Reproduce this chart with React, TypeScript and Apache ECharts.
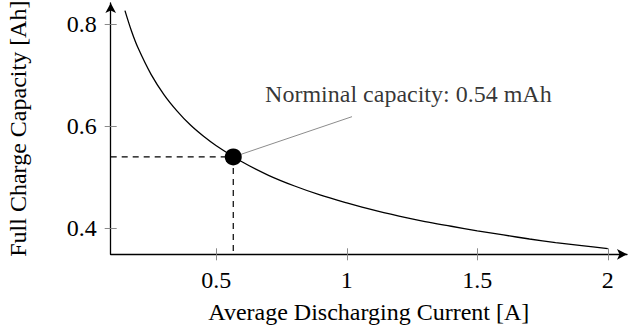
import React, { useEffect, useRef } from "react";
import * as echarts from "echarts";

// Data
const currentA = [0.15, 0.175, 0.2, 0.25, 0.3, 0.35, 0.4, 0.45, 0.5, 0.6, 0.7, 0.8, 0.9, 1.0, 1.1, 1.2, 1.3, 1.4, 1.5, 1.6, 1.7, 1.8, 1.9, 2.0];
const capacityAh = [0.827, 0.787, 0.754, 0.702, 0.662, 0.63, 0.603, 0.581, 0.562, 0.53, 0.504, 0.483, 0.465, 0.45, 0.436, 0.424, 0.413, 0.404, 0.395, 0.387, 0.379, 0.372, 0.366, 0.36];
const nominalPoint = [0.565, 0.54];
const calloutEnd = [1.02, 0.619];
const calloutTextAnchor = [0.687, 0.664];
const calloutText = "Norminal capacity: 0.54 mAh";
const xTicks = [0.5, 1, 1.5, 2];
const yTicks = [0.4, 0.6, 0.8];
const xRange = [0.0954, 2.0736];
const yRange = [0.349, 0.842];
const xTitle = "Average Discharging Current [A]";
const yTitle = "Full Charge Capacity [Ah]";

const FONT = "Liberation Serif";
const FS = 24;

export default function App() {
  const ref = useRef<HTMLDivElement>(null);
  useEffect(() => {
    if (!ref.current) return;
    const chart = echarts.init(ref.current, null, { renderer: "svg" });
    const curve = currentA.map((x, i) => [x, capacityAh[i]]);
    const tickStyle = { show: true, length: 6, lineStyle: { color: "#8a8a8a", width: 1 } };
    const textBase = { fontFamily: FONT, fontSize: FS, color: "#000" };
    chart.setOption({
      animation: false,
      backgroundColor: "#ffffff",
      textStyle: { fontFamily: FONT },
      grid: {
        left: 110.7,
        right: 4,
        top: 3,
        bottom: 77.7,
        containLabel: false,
        outerBoundsMode: "none",
      },
      xAxis: [
        {
          type: "value",
          position: "bottom",
          min: xRange[0],
          max: xRange[1],
          splitLine: { show: false },
          axisLine: {
            show: true,
            onZero: false,
            symbol: ["none", "arrow"],
            symbolSize: [8, 10],
            lineStyle: { color: "#000", width: 1.3 },
          },
          axisTick: { ...tickStyle, inside: false, customValues: xTicks },
          axisLabel: {
            ...textBase,
            customValues: xTicks,
            formatter: (v: number) => String(v),
            margin: 14,
          },
          name: xTitle,
          nameLocation: "middle",
          nameGap: 46,
          nameTextStyle: textBase,
        },
        {
          type: "value",
          position: "bottom",
          min: xRange[0],
          max: xRange[1],
          splitLine: { show: false },
          axisLine: { show: false, onZero: false },
          axisTick: { ...tickStyle, inside: true, customValues: xTicks },
          axisLabel: { show: false },
        },
      ],
      yAxis: [
        {
          type: "value",
          position: "left",
          min: yRange[0],
          max: yRange[1],
          splitLine: { show: false },
          axisLine: {
            show: true,
            onZero: false,
            symbol: ["none", "arrow"],
            symbolSize: [8, 10],
            lineStyle: { color: "#000", width: 1.3 },
          },
          axisTick: { ...tickStyle, inside: false, customValues: yTicks },
          axisLabel: {
            ...textBase,
            customValues: yTicks,
            formatter: (v: number) => String(v),
            margin: 14,
          },
          name: yTitle,
          nameLocation: "middle",
          nameRotate: 90,
          nameGap: 81,
          nameTextStyle: textBase,
        },
        {
          type: "value",
          position: "left",
          min: yRange[0],
          max: yRange[1],
          splitLine: { show: false },
          axisLine: { show: false, onZero: false },
          axisTick: { ...tickStyle, inside: true, customValues: yTicks },
          axisLabel: { show: false },
        },
      ],
      series: [
        {
          type: "line",
          data: [[xRange[0], nominalPoint[1]], nominalPoint],
          symbol: "none",
          lineStyle: { color: "#000", width: 1.2, type: [6, 5] },
          z: 2,
        },
        {
          type: "line",
          data: [nominalPoint, [nominalPoint[0], yRange[0]]],
          symbol: "none",
          lineStyle: { color: "#000", width: 1.2, type: [6, 5] },
          z: 2,
        },
        {
          type: "line",
          data: [nominalPoint, calloutEnd],
          symbol: "none",
          lineStyle: { color: "#8c8c8c", width: 1 },
          z: 2,
        },
        {
          type: "line",
          data: curve,
          smooth: 0.3,
          symbol: "none",
          lineStyle: { color: "#000", width: 1.3 },
          z: 3,
        },
        {
          type: "scatter",
          data: [nominalPoint],
          symbol: "circle",
          symbolSize: 17,
          itemStyle: { color: "#000", opacity: 1 },
          z: 4,
        },
        {
          type: "scatter",
          data: [calloutTextAnchor],
          symbolSize: 0,
          silent: true,
          label: {
            ...textBase,
            show: true,
            position: [0, 0],
            align: "left",
            verticalAlign: "middle",
            formatter: calloutText,
          },
          z: 5,
        },
      ],
    });
    return () => chart.dispose();
  }, []);
  return <div ref={ref} style={{ width: 631, height: 332, position: "absolute", left: 0, top: 0 }} />;
}
